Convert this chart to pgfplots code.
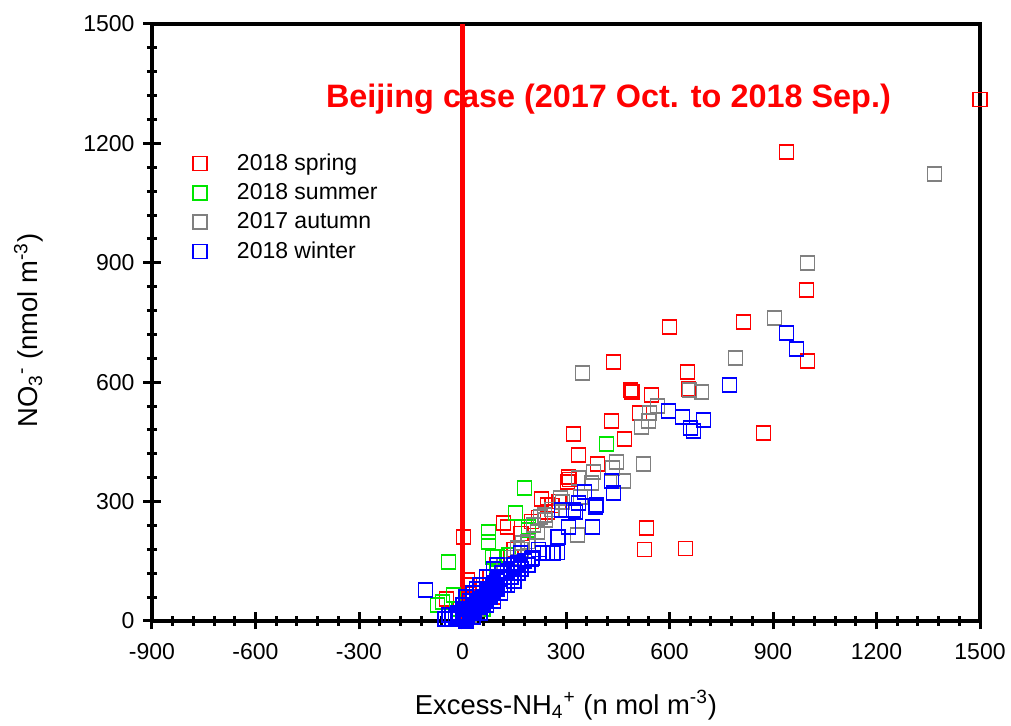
\documentclass[border=0pt]{standalone}
\usepackage{fontspec}
\setmainfont{Liberation Sans}
\usepackage{pgfplots}
\pgfplotsset{compat=1.18}
\definecolor{cred}{RGB}{255,0,0}
\definecolor{cgreen}{RGB}{0,230,0}
\definecolor{cgrey}{RGB}{128,128,128}
\definecolor{cblue}{RGB}{0,0,255}
\begin{document}
\begin{tikzpicture}
\begin{axis}[
  scale only axis, width=414pt, height=298.5pt,
  xmin=-900, xmax=1500, ymin=0, ymax=1500,
  clip=false,
  xtick={-900,-600,...,1500}, ytick={0,300,...,1500},
  xticklabels={-900,-600,-300,0,300,600,900,1200,1500},
  yticklabels={0,300,600,900,1200,1500},
  minor x tick num=4, minor y tick num=4,
  xtick pos=bottom, ytick pos=left,
  tick align=center,
  major tick length=8.5pt, minor tick length=5pt,
  every tick/.append style={black, line width=1.5pt},
  axis line style={line width=2pt},
  tick label style={font=\fontsize{11.5}{13}\selectfont},
  xticklabel style={yshift=-3.5pt},
  yticklabel style={xshift=-1pt},
  xlabel={Excess-NH\textsubscript{4}\textsuperscript{+} (n mol m\textsuperscript{-3})},
  ylabel={NO\textsubscript{3}\textsuperscript{-} (nmol m\textsuperscript{-3})},
  label style={font=\fontsize{13.7}{15}\selectfont},
  x label style={at={(axis description cs:0.5,0)}, anchor=center, yshift=-42pt},
  y label style={at={(axis description cs:-0.149,0.487)}, anchor=center},
  legend style={draw=none, fill=none, at={(0.049,0.79)}, anchor=north west,
    font=\fontsize{11.5}{13}\selectfont, row sep=1pt, inner sep=0pt,
    /tikz/every odd column/.append style={column sep=13pt}},
  legend cell align=left,
]
\addplot[only marks, mark=square, mark size=3.5pt, mark options={line width=0.8pt}, color=cred] coordinates {
(1500,1310)(939,1178)(997,832)(815,751)(600,739)(1000,653)(872,472)(438,651)(652,626)(655,583)(487,580)(492,575)(548,568)(513,522)(432,502)(470,457)(322,470)(336,417)(391,394)(307,362)(310,356)(246,291)(229,306)(119,246)(130,236)(3,211)(-46,55)(533,234)(304,349)(246,274)(14,103)(527,180)(646,182)
(20,90)(40,60)(60,80)(80,110)(100,140)(150,180)(170,220)(200,250)(220,260)(260,290)(280,300)(180,150)(90,60)(140,160)(110,90)(50,40)(30,20)
};
\addlegendentry{2018 spring}
\addplot[only marks, mark=square, mark size=3.5pt, mark options={line width=0.8pt}, color=cgreen] coordinates {
(180,334)(417,445)(75,224)(75,199)(154,271)(-41,148)(-72,40)(-26,65)(87,161)(-58,48)(191,229)(101,161)(133,166)(191,236)(20,40)(50,70)(100,120)(130,160)(60,30)(30,50)(-10,30)
};
\addlegendentry{2018 summer}
\addplot[only marks, mark=square, mark size=3.5pt, mark options={line width=0.8pt}, color=cgrey] coordinates {
(1368,1123)(1000,900)(904,761)(791,661)(348,623)(658,580)(693,575)(565,540)(542,522)(539,502)(519,487)(525,394)(446,400)(435,384)(380,374)(467,352)(336,359)(374,347)(290,299)(238,266)(206,241)(241,254)(217,224)(284,309)(174,196)(159,183)(333,216)(226,261)(260,280)(342,311)(130,120)(150,160)(170,180)(190,200)(100,90)(80,70)(60,50)(40,30)(20,15)(10,5)(120,140)
};
\addlegendentry{2017 autumn}
\addplot[only marks, mark=square, mark size=3.5pt, mark options={line width=0.8pt}, color=cblue] coordinates {
(939,723)(968,683)(774,593)(597,528)(638,513)(699,505)(661,485)(670,477)(432,352)(438,322)(354,324)(336,296)(287,279)(322,279)(307,236)(278,211)(388,291)(386,286)(328,274)(377,236)(246,170)(261,170)(275,172)(-107,78)(200,156)(168,171)(203,158)(101,141)(139,111)(87,90)(232,171)(264,171)(275,211)
(5,5)(10,15)(15,10)(20,25)(25,20)(30,30)(35,25)(40,40)(45,35)(50,50)(55,45)(60,60)(65,55)(70,70)(75,65)(80,80)(85,75)(90,95)(95,85)(100,100)(110,105)(115,120)(120,110)(130,125)(140,130)(150,140)(160,145)(0,10)(-10,5)(-20,10)(2,40)(10,60)(30,70)(50,90)(70,110)(90,130)(40,80)(20,50)(15,30)(60,40)(80,60)(100,80)(120,90)(140,110)(160,120)(180,150)(220,180)(-30,15)(-15,20)(5,30)(10,0)(30,10)(50,20)(70,40)(90,50)(110,70)(130,90)(150,100)(170,130)(190,140)(-50,5)(-40,15)(-30,5)
};
\addlegendentry{2018 winter}
\addplot[cred, line width=2.5pt, forget plot] coordinates {(0,0)(0,1500)};
\node[text=cred, font=\bfseries\fontsize{16.2}{18}\selectfont] at (axis cs:423,1311) {Beijing case (2017 Oct. to 2018 Sep.)};
\coordinate (sw) at (rel axis cs:0,0);
\coordinate (ne) at (rel axis cs:1,1);
\end{axis}
\begin{axis}[
  scale only axis, width=414pt, height=298.5pt,
  xmin=-900, xmax=1500, ymin=0, ymax=1500,
  hide y axis, axis x line*=top,
  axis line style={draw=none},
  xtick=\empty,
  minor xtick={-840,-780,-720,-660,-540,-480,-420,-360,-240,-180,-120,-60,60,120,180,240,360,420,480,540,660,720,780,840,960,1020,1080,1140,1260,1320,1380,1440},
  tick align=inside, minor tick length=4pt,
  every tick/.append style={black, line width=1.5pt},
]
\end{axis}
\pgfresetboundingbox
\path[use as bounding box] ([shift={(-76pt,-52.5pt)}]sw) rectangle ([shift={(15.5pt,12pt)}]ne);
\end{tikzpicture}
\end{document}
